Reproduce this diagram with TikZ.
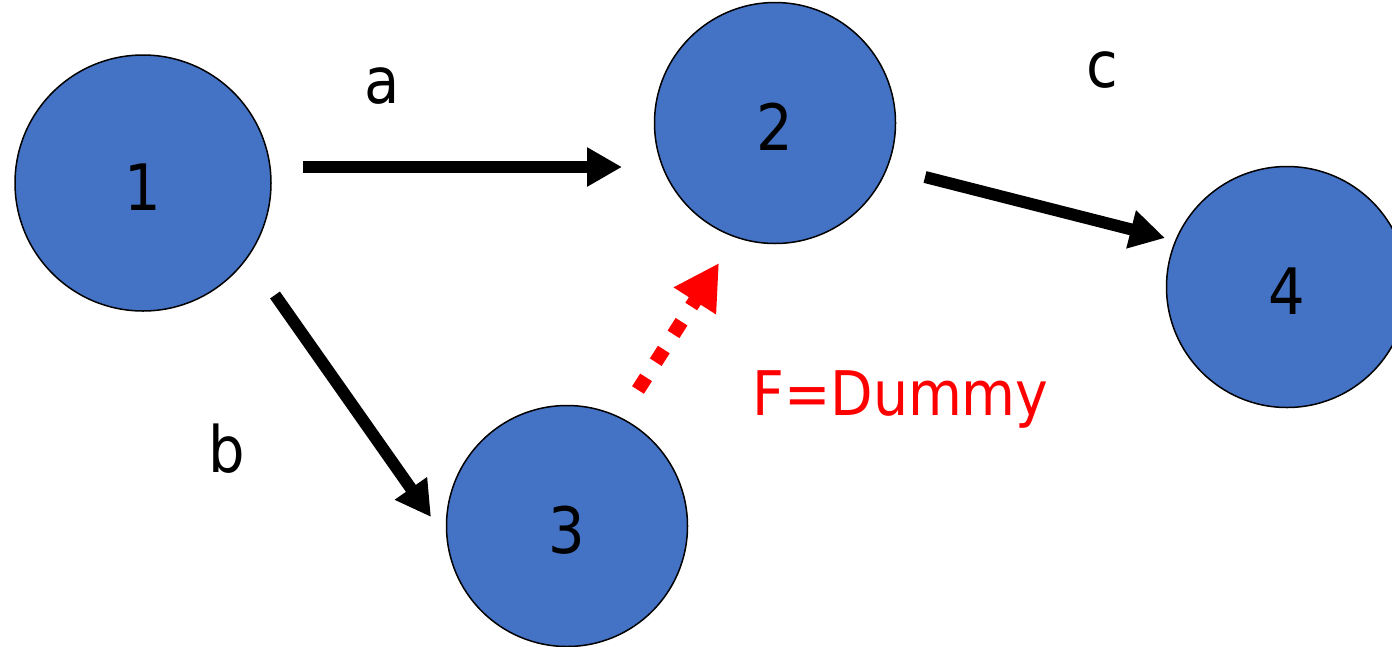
\documentclass[tikz,border=0pt]{standalone}
\usepackage{fontspec}
\setmainfont{DejaVu Sans Condensed}
\usetikzlibrary{arrows.meta}
\definecolor{nodeblue}{HTML}{4472C4}
\begin{document}
\begin{tikzpicture}[x=1pt,y=-1pt,
  bigtext/.style={font=\fontsize{64}{64}\selectfont},
  event/.style={circle,draw=black,line width=1.5pt,fill=nodeblue,inner sep=0pt,bigtext},
  act/.style={line width=12pt,-{Triangle[length=35pt,width=37pt]}},
  dummy/.style={red,line width=14pt,dash pattern=on 15pt off 18pt,-{Triangle[length=45pt,width=47pt]}},
  lbl/.style={bigtext,anchor=base,inner sep=0pt}]
\useasboundingbox (0,0) rectangle (1392,646);
\clip (0,0) rectangle (1392,646);

% events (digits sit a little below the circle centre)
\newcommand\evnum[1]{\raisebox{-4pt}[\height][\depth]{#1}}
\node[event,minimum size=256pt] (n1) at (143,183) {\evnum{1}};
\node[event,minimum size=241pt] (n2) at (775,123) {\evnum{2}};
\node[event,minimum size=241pt] (n3) at (567,526) {\evnum{3}};
\node[event,minimum size=241pt] (n4) at (1287,287) {\evnum{4}};

% arrow end points
\coordinate (a1) at (303,167);
\coordinate (a2) at (622,167);
\coordinate (b1) at (275,295);
\coordinate (b2) at (431,517);
\coordinate (c1) at (925,177);
\coordinate (c2) at (1165,238);
\coordinate (f1) at (638,390);
\coordinate (f2) at (719,263);

% activities
\draw[act] (a1) -- (a2);
\draw[act] (b1) -- (b2);
\draw[act] (c1) -- (c2);
\draw[dummy] (f1) -- (f2);

% labels
\node[lbl] (la) at (382,103) {a};
\node[lbl] (lb) at (227,472) {b};
\node[lbl] (lc) at (1102,87) {c};
\node[lbl,anchor=base west,text=red,font=\fontsize{61.5}{62}\selectfont] (lf) at (752,415) {F=Dummy};
\end{tikzpicture}
\end{document}
